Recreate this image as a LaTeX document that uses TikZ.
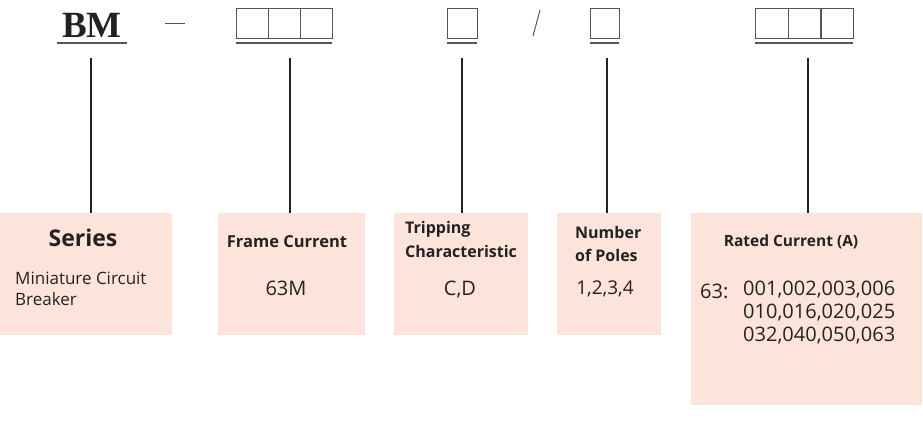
\documentclass[tikz,border=0pt]{standalone}
\usepackage{fontspec}
\setmainfont{Open Sans}
\newfontfamily\serifbm{Liberation Serif}
\definecolor{boxfill}{HTML}{FCE4DA}
\definecolor{ink}{HTML}{222222}
\definecolor{rule}{HTML}{555555}
\tikzset{
  x=1pt,y=-1pt,
  infobox/.style={fill=boxfill,draw=none},
  leader/.style={draw=ink,line width=2pt},
  sq/.style={draw=rule,line width=0.9pt},
  uline/.style={draw=rule,line width=1.6pt},
  hd/.style={font=\fontsize{16.5}{20}\selectfont\bfseries,text=ink,inner sep=0pt},
  bd/.style={font=\fontsize{19}{23}\selectfont,text=ink,inner sep=0pt},
}
\begin{document}
\begin{tikzpicture}
\useasboundingbox (0,0) rectangle (923,432);
% info boxes
\path[infobox] (0,213) rectangle (172,335);
\path[infobox] (218,213) rectangle (365,335);
\path[infobox] (394,213) rectangle (528,335);
\path[infobox] (557,213) rectangle (661,335);
\path[infobox] (691,213) rectangle (922,405);
% code header
\node[font=\serifbm\fontsize{37}{37}\selectfont\bfseries,text=ink,inner sep=0pt,anchor=base] (bm) at (92,37) {BM};
\draw[uline] (57,43) -- (127,43);
\draw[draw=rule,line width=1pt] (165,23) -- (185,23);
\foreach \x in {236,268,300}{\draw[sq] (\x,8) rectangle ++(32,30);}
\draw[uline] (236,43) -- (332,43);
\draw[sq] (447,8) rectangle (477,38);
\draw[uline] (447,43) -- (477,43);
\draw[draw=rule,line width=1pt] (540,10) -- (533,36);
\draw[sq] (590,8) rectangle (619,38);
\draw[uline] (590,43) -- (619,43);
\foreach \x in {755,788,820}{\draw[sq] (\x,8) rectangle ++(33,30);}
\draw[uline] (755,43) -- (853,43);
% anchor coordinates
\coordinate (t1) at (91,58); \coordinate (b1) at (91,213);
\coordinate (t2) at (290,58); \coordinate (b2) at (290,213);
\coordinate (t3) at (462,58); \coordinate (b3) at (462,213);
\coordinate (t4) at (607,58); \coordinate (b4) at (607,213);
\coordinate (t5) at (808,58); \coordinate (b5) at (808,213);
\draw[leader] (t1) -- (b1);
\draw[leader] (t2) -- (b2);
\draw[leader] (t3) -- (b3);
\draw[leader] (t4) -- (b4);
\draw[leader] (t5) -- (b5);
% texts
\node[font=\fontsize{23}{26}\selectfont\bfseries,text=ink,inner sep=0pt] (series) at (83,238) {Series};
\node[bd,anchor=north west,align=left,font=\fontsize{17}{21}\selectfont] (mcb) at (15,272) {Miniature Circuit\\Breaker};
\node[hd] (fc) at (287,242) {Frame Current};
\node[bd,font=\fontsize{20}{23}\selectfont] (fcv) at (286,288) {63M};
\node[hd,anchor=north west,align=left,font=\fontsize{16}{24}\selectfont\bfseries] (tc) at (405,221) {Tripping\\Characteristic};
\node[bd,font=\fontsize{20}{23}\selectfont] (tcv) at (460,290) {C,D};
\node[hd,anchor=north west,align=left,font=\fontsize{16}{23}\selectfont\bfseries] (np) at (575,226) {Number\\of Poles};
\node[bd] (npv) at (605,289) {1,2,3,4};
\node[hd,font=\fontsize{15.5}{20}\selectfont\bfseries] (rc) at (791,242) {Rated Current (A)};
\node[bd,anchor=base west,font=\fontsize{20}{23}\selectfont] (rc63) at (700,298) {63:};
\node[bd,anchor=north west,align=left,font=\fontsize{20}{23}\selectfont] (rcv) at (743,281) {001,002,003,006\\010,016,020,025\\032,040,050,063};
\end{tikzpicture}
\end{document}
